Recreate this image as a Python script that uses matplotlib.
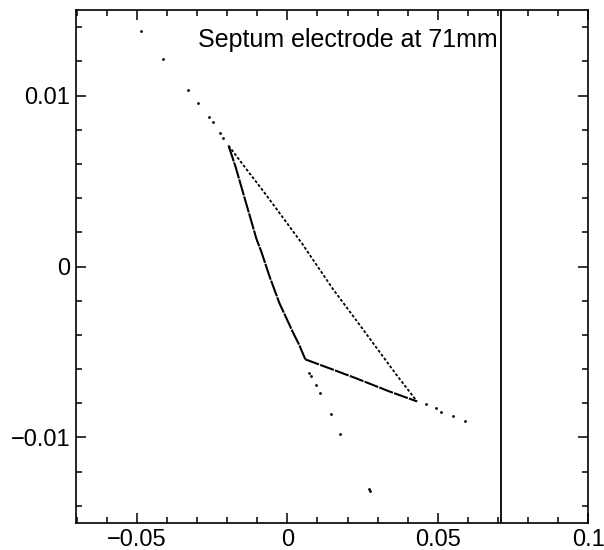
import matplotlib
matplotlib.use("Agg")
import matplotlib.pyplot as plt
import numpy as np

plt.rcParams['font.family'] = ['Liberation Sans', 'DejaVu Sans']

# separatrix edges (x in m, x' in rad)
edge_ab_x = [-0.01954, -0.01722, -0.01490, -0.01258, -0.01026, -0.00861,
             -0.00596, -0.00265, -0.00033, 0.00166, 0.00397, 0.00596]
edge_ab_y = [0.00707, 0.00584, 0.00443, 0.00302, 0.00161, 0.00085,
             -0.00056, -0.00214, -0.00302, -0.00378, -0.00460, -0.00543]

edge_ac_x = [-0.01954, -0.01424, -0.00861, -0.00265, 0.00497, 0.01490,
             0.02483, 0.03609, 0.04305]
edge_ac_y = [0.00707, 0.00584, 0.00455, 0.00314, 0.00132, -0.00126,
             -0.00361, -0.00630, -0.00789]

edge_bc_x = [0.00596, 0.01391, 0.02285, 0.03377, 0.04305]
edge_bc_y = [-0.00543, -0.00595, -0.00654, -0.00730, -0.00789]

# sparse particle turns on the outgoing arms
tail_x = [-0.04868, -0.04139, -0.03311, -0.02980, -0.02616, -0.02483, -0.02252, -0.02152,
          0.00728, 0.00795, 0.00960, 0.01093, 0.01457, 0.01755, 0.02715, 0.02745,
          0.04603, 0.04934, 0.05099, 0.05497, 0.05894]
tail_y = [0.01375, 0.01211, 0.01035, 0.00959, 0.00877, 0.00847, 0.00783, 0.00754,
          -0.00625, -0.00642, -0.00695, -0.00742, -0.00865, -0.00977, -0.01300, -0.01315,
          -0.00806, -0.00830, -0.00848, -0.00877, -0.00906]

septum_x = 0.071

x_ticks = [-0.05, 0, 0.05, 0.1]
x_labels = ['\u22120.05', '0', '0.05', '0.1']
y_ticks = [-0.01, 0, 0.01]
y_labels = ['\u22120.01', '0', '0.01']

fig = plt.figure(figsize=(6.04, 5.5), dpi=100)
ax = fig.add_axes([0.1253, 0.0491, 0.8490, 0.9327])

ax.plot(edge_ab_x, edge_ab_y, color='black', lw=1.5, ls=(0, (8, 0.5)))
ax.plot(edge_ac_x, edge_ac_y, color='black', lw=1.3, ls=(0, (1.6, 1.1)))
ax.plot(edge_bc_x, edge_bc_y, color='black', lw=1.5, ls=(0, (7, 0.6)))
ax.scatter(tail_x, tail_y, s=4, color='black', lw=0)

ax.axvline(septum_x, color='black', lw=1.3)
ax.text(0.0699, 0.01285, 'Septum electrode at 71mm', ha='right', va='baseline',
        fontsize=18)

ax.set_xlim(-0.0703, 0.1)
ax.set_ylim(-0.015, 0.015)
ax.set_xticks(x_ticks, x_labels)
ax.set_yticks(y_ticks, y_labels)
ax.set_xticks(np.arange(-0.07, 0.1, 0.01), minor=True)
ax.set_yticks(np.arange(-0.014, 0.0141, 0.002), minor=True)
ax.tick_params(which='both', direction='in', top=True, right=True,
               labelsize=17, width=1.1)
ax.tick_params(which='major', length=7, pad=4)
ax.tick_params(which='minor', length=4.5)
for s in ax.spines.values():
    s.set_linewidth(1.2)

fig.savefig('out.png', dpi=100)
